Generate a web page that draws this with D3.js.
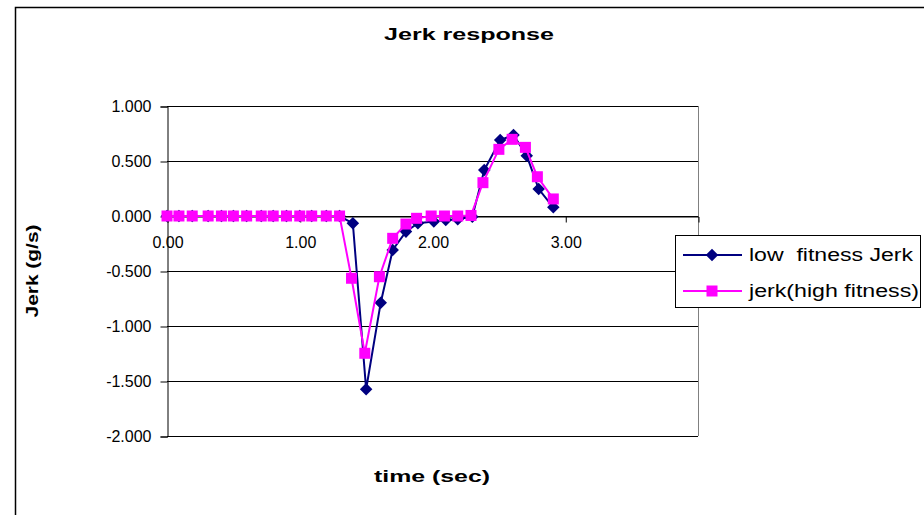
<!DOCTYPE html>
<html>
<head>
<meta charset="utf-8">
<script src="https://cdn.jsdelivr.net/npm/d3@7"></script>
<style>
  body { margin: 0; background: #fff; }
  svg { display: block; font-family: "Liberation Sans", Arial, sans-serif; }
</style>
</head>
<body>
<svg id="chart" width="924" height="515"></svg>
<script>
// time (sec) and jerk (g/s)
const lowTime = [0, 0.09, 0.19, 0.31, 0.41, 0.5, 0.6, 0.71, 0.8, 0.9, 1.0, 1.09, 1.2, 1.3,
  1.4, 1.5, 1.61, 1.7, 1.8, 1.89, 2.01, 2.1, 2.19, 2.3, 2.39, 2.51, 2.61, 2.71, 2.8, 2.91];
const lowJerk = [0, 0, 0, 0, 0, 0, 0, 0, 0, 0, 0, 0, 0, 0,
  -0.066, -1.575, -0.788, -0.309, -0.142, -0.066, -0.05, -0.036, -0.03, -0.006,
  0.418, 0.691, 0.736, 0.548, 0.245, 0.079];

const highTime = [0, 0.09, 0.19, 0.31, 0.41, 0.5, 0.6, 0.71, 0.8, 0.9, 1.0, 1.09, 1.2, 1.3,
  1.39, 1.49, 1.6, 1.7, 1.8, 1.88, 1.99, 2.09, 2.19, 2.29, 2.38, 2.5, 2.6, 2.7, 2.79, 2.91];
const highJerk = [0, 0, 0, 0, 0, 0, 0, 0, 0, 0, 0, 0, 0, 0,
  -0.566, -1.248, -0.552, -0.203, -0.073, -0.021, 0, 0, 0, 0.005,
  0.303, 0.606, 0.697, 0.624, 0.357, 0.155];

const xTicks = [0, 1, 2, 3];
const yTicks = [1, 0.5, 0, -0.5, -1, -1.5, -2];
const seriesNames = ["low  fitness Jerk", "jerk(high fitness)"];

const svg = d3.select("#chart");

// outer chart frame (runs off the right and bottom edges)
svg.append("rect")
  .attr("x", 15.5).attr("y", 7.5)
  .attr("width", 1000).attr("height", 1000)
  .attr("fill", "#fff").attr("stroke", "#000").attr("stroke-width", 1.5);

const x = d3.scaleLinear().domain([0, 4]).range([167, 698]);
const y = d3.scaleLinear().domain([-2, 1]).range([436, 106]);

// gridlines
svg.append("g")
  .selectAll("line")
  .data(yTicks)
  .join("line")
  .attr("x1", x(0)).attr("x2", x(4))
  .attr("y1", (d) => Math.round(y(d)) + 0.5).attr("y2", (d) => Math.round(y(d)) + 0.5)
  .attr("stroke", "#000").attr("stroke-width", 1);

// plot area right edge
svg.append("line")
  .attr("x1", x(4) + 0.5).attr("x2", x(4) + 0.5)
  .attr("y1", y(1)).attr("y2", y(-2))
  .attr("stroke", "#808080");

// y axis
const yAxis = svg.append("g")
  .attr("transform", `translate(${x(0) + 0.5},0.5)`)
  .call(d3.axisLeft(y).tickValues(yTicks).tickSize(7).tickPadding(9).tickFormat((d) => d.toFixed(3)));
yAxis.selectAll("text").attr("font-size", 16).attr("font-family", "Liberation Sans, Arial, sans-serif").attr("fill", "#000");

// x axis sits on zero
const xAxis = svg.append("g")
  .attr("transform", `translate(0.5,${Math.round(y(0)) + 0.5})`)
  .call(d3.axisBottom(x).tickValues(xTicks).tickSize(6).tickPadding(14).tickFormat((d) => d.toFixed(2)));
xAxis.selectAll("text").attr("font-size", 16).attr("font-family", "Liberation Sans, Arial, sans-serif").attr("fill", "#000");
svg.selectAll(".domain").attr("stroke", "#000");
svg.selectAll(".tick line").attr("stroke", "#000");

// series
const lowPts = lowTime.map((t, i) => [t, lowJerk[i]]);
const highPts = highTime.map((t, i) => [t, highJerk[i]]);
const line = d3.line().x((d) => x(d[0])).y((d) => y(d[1]));

svg.append("path").datum(lowPts)
  .attr("d", line).attr("fill", "none").attr("stroke", "#000080").attr("stroke-width", 2);
svg.append("g").selectAll("path").data(lowPts).join("path")
  .attr("d", d3.symbol(d3.symbolDiamond2, 100))
  .attr("transform", (d) => `translate(${x(d[0])},${y(d[1])})`)
  .attr("fill", "#000080");

svg.append("path").datum(highPts)
  .attr("d", line).attr("fill", "none").attr("stroke", "#ff00ff").attr("stroke-width", 2);
svg.append("g").selectAll("rect").data(highPts).join("rect")
  .attr("x", (d) => x(d[0]) - 5.5).attr("y", (d) => y(d[1]) - 5.5)
  .attr("width", 11).attr("height", 11)
  .attr("fill", "#ff00ff");

// titles
svg.append("text")
  .attr("x", 469).attr("y", 40)
  .attr("text-anchor", "middle")
  .attr("font-size", 16).attr("font-weight", "bold")
  .attr("textLength", 170).attr("lengthAdjust", "spacingAndGlyphs")
  .text("Jerk response");

svg.append("text")
  .attr("x", 432).attr("y", 482)
  .attr("text-anchor", "middle")
  .attr("font-size", 16).attr("font-weight", "bold")
  .attr("textLength", 116).attr("lengthAdjust", "spacingAndGlyphs")
  .text("time (sec)");

svg.append("text")
  .attr("transform", "translate(38,271) rotate(-90)")
  .attr("text-anchor", "middle")
  .attr("font-size", 16).attr("font-weight", "bold")
  .attr("textLength", 93).attr("lengthAdjust", "spacingAndGlyphs")
  .text("Jerk (g/s)");

// legend
const legend = svg.append("g");
legend.append("rect")
  .attr("x", 675.5).attr("y", 235.5)
  .attr("width", 245).attr("height", 72)
  .attr("fill", "#fff").attr("stroke", "#000");

const entries = [
  { name: seriesNames[0], color: "#000080", y: 255 },
  { name: seriesNames[1], color: "#ff00ff", y: 291 }
];
const item = legend.selectAll("g.item").data(entries).join("g").attr("class", "item");
item.append("line")
  .attr("x1", 683).attr("x2", 742)
  .attr("y1", (d) => d.y).attr("y2", (d) => d.y)
  .attr("stroke", (d) => d.color).attr("stroke-width", 2);
item.filter((d, i) => i === 0).append("path")
  .attr("d", d3.symbol(d3.symbolDiamond2, 100))
  .attr("transform", (d) => `translate(712,${d.y})`)
  .attr("fill", (d) => d.color);
item.filter((d, i) => i === 1).append("rect")
  .attr("x", 712 - 5.5).attr("y", (d) => d.y - 5.5)
  .attr("width", 11).attr("height", 11)
  .attr("fill", (d) => d.color);
item.append("text")
  .attr("x", 749).attr("y", (d) => d.y + 6)
  .attr("font-size", 18)
  .attr("textLength", (d, i) => i === 0 ? 164 : 170)
  .attr("lengthAdjust", "spacingAndGlyphs")
  .attr("xml:space", "preserve")
  .style("white-space", "pre")
  .text((d) => d.name);
</script>
</body>
</html>
